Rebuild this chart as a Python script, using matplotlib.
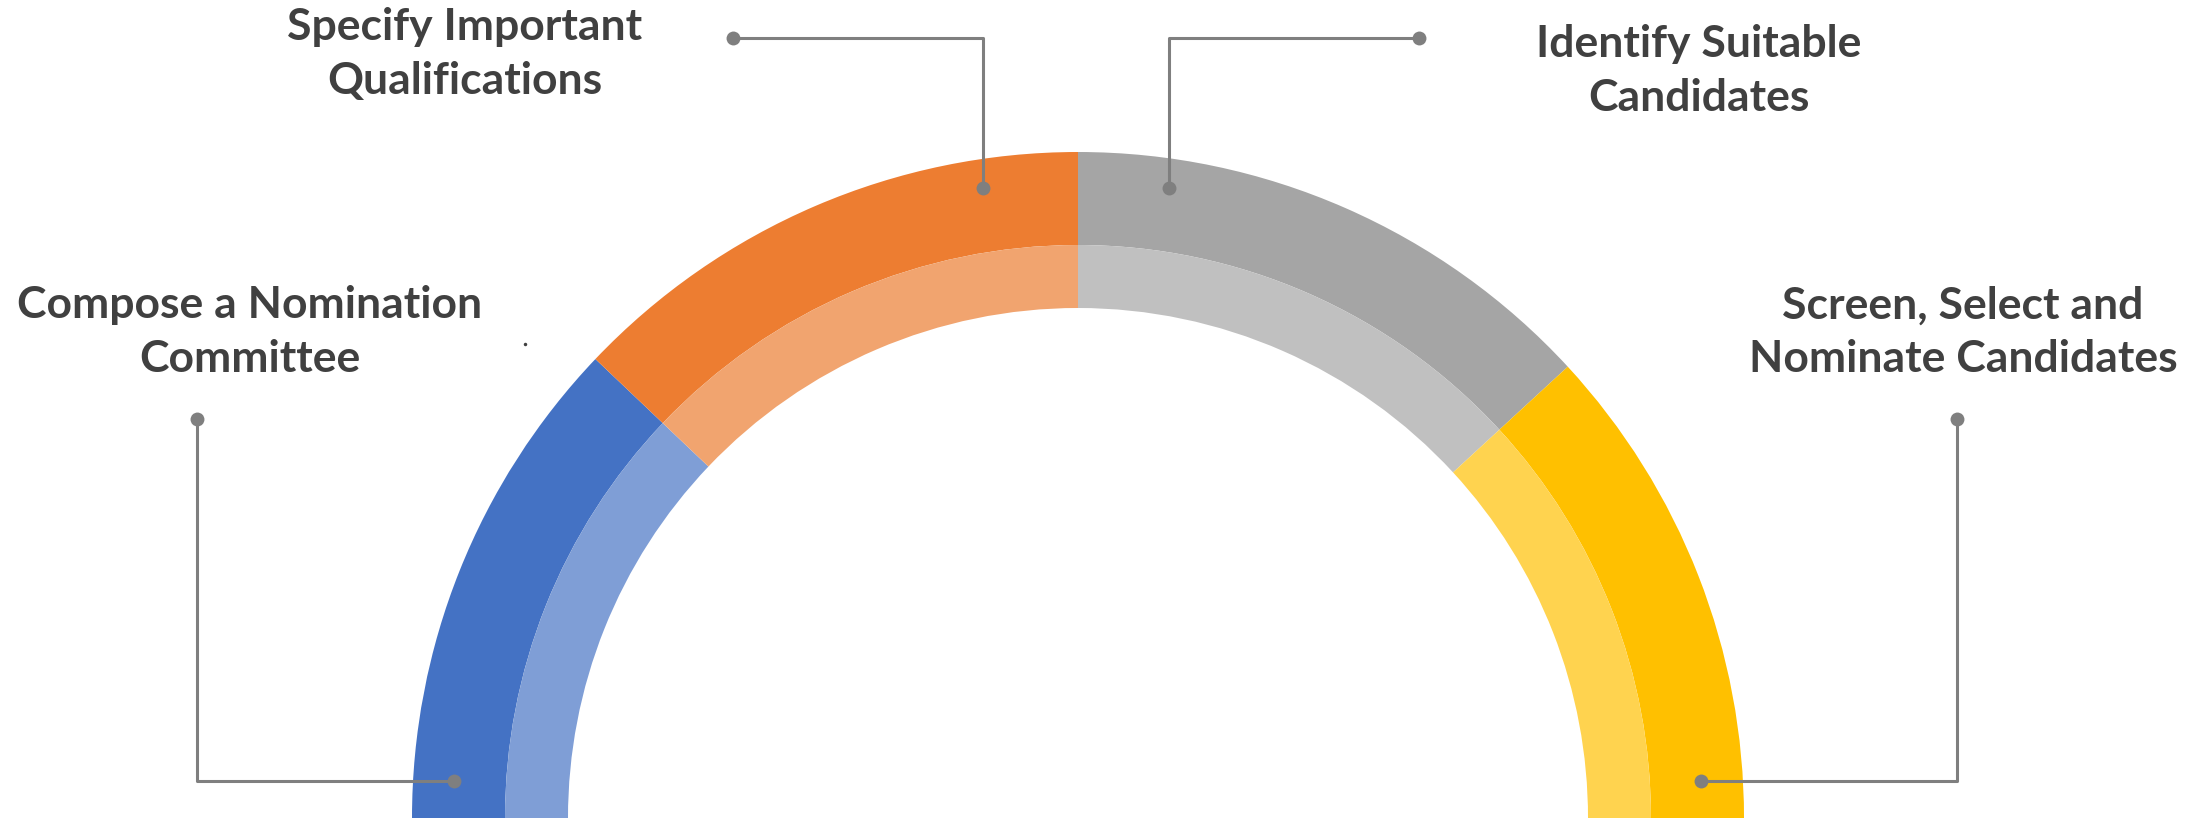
import matplotlib
matplotlib.use("Agg")
import matplotlib.pyplot as plt

# ---- data ----
steps = ["Compose a Nomination\nCommittee",
         "Specify Important\nQualifications",
         "Identify Suitable\nCandidates",
         "Screen, Select and\nNominate Candidates"]
shares = [24.2, 25.8, 26.3, 23.7]
outer_colors = ["#4472C4", "#ED7D31", "#A5A5A5", "#FFC000"]
inner_colors = ["#7F9ED6", "#F1A46F", "#C0C0C0", "#FFD34F"]

W, H = 2211, 821
fig = plt.figure(figsize=(W / 100, H / 100), dpi=100)
ax = fig.add_axes([0, 0, 1, 1])

def Y(y_top):
    return H - y_top

cx, cy = 1078, Y(818)
r_out, r_mid, r_in = 666, 573, 510

vals = shares + [sum(shares)]
ax.pie(vals, radius=r_out, center=(cx, cy), startangle=180, counterclock=False,
       colors=outer_colors + ["none"], wedgeprops=dict(width=r_out - r_mid, linewidth=0),
       frame=True)
ax.pie(vals, radius=r_mid, center=(cx, cy), startangle=180, counterclock=False,
       colors=inner_colors + ["none"], wedgeprops=dict(width=r_mid - r_in, linewidth=0),
       frame=True)
ax.set_xlim(0, W)
ax.set_ylim(0, H)
ax.set_aspect("equal")
ax.axis("off")

line_c = "#7F7F7F"
connectors = [
    [(454, 781), (197, 781), (197, 419)],
    [(983, 188), (983, 38), (733, 38)],
    [(1169, 188), (1169, 38), (1419, 38)],
    [(1701, 781), (1957, 781), (1957, 419)],
]
for pts in connectors:
    xs = [p[0] for p in pts]
    ys = [Y(p[1]) for p in pts]
    ax.plot(xs, ys, color=line_c, lw=2.2, solid_capstyle="butt", zorder=3)
    ax.plot([xs[0], xs[-1]], [ys[0], ys[-1]], "o", color=line_c, ms=10, mec="none", zorder=4)

ax.plot([525], [Y(344)], "o", color="#404040", ms=2.5, mec="none")

label_pos = [(250, 332), (465, 54), (1699, 71), (1963, 332)]
for txt, (x, y) in zip(steps, label_pos):
    ax.text(x, Y(y), txt, ha="center", va="center", fontsize=32, fontweight="bold",
            color="#404040", family="Lato", linespacing=1.4)

fig.savefig("out.png", dpi=100, facecolor="white")
